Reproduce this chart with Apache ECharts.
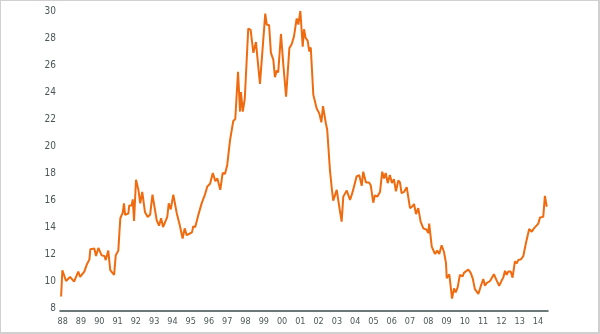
<!DOCTYPE html>
<html>
<head>
<meta charset="utf-8">
<title>Series 1988-2014</title>
<script src="https://cdn.jsdelivr.net/npm/echarts@6/dist/echarts.min.js"></script>
<style>
    body { margin: 0; background: #fff; }
    #chart { position: absolute; left: 0; top: 0; width: 600px; height: 334px; }
    .frame {
        position: absolute; left: 0; top: 0; width: 600px; height: 334px;
        box-sizing: border-box; pointer-events: none;
        border-style: solid; border-color: #d0d0d0;
        border-width: 1px 2px 2px 1px;
    }
</style>
</head>
<body>
<div id="chart"></div>
<div class="frame"></div>
<script>
    // decimal year / value
    var years = [
        1987.91, 1987.98, 1988.18, 1988.40, 1988.49, 1988.62, 1988.85, 1988.95, 1989.18, 1989.31,
        1989.46, 1989.51, 1989.73, 1989.82, 1989.95, 1990.13, 1990.28, 1990.35, 1990.49, 1990.60,
        1990.81, 1990.90, 1991.04, 1991.15, 1991.28, 1991.35, 1991.41, 1991.59, 1991.64, 1991.77,
        1991.83, 1991.90, 1992.01, 1992.14, 1992.24, 1992.35, 1992.50, 1992.65, 1992.78, 1992.91,
        1992.99, 1993.14, 1993.27, 1993.38, 1993.49, 1993.72, 1993.80, 1993.91, 1994.05, 1994.24,
        1994.40, 1994.56, 1994.67, 1994.78, 1994.93, 1995.07, 1995.14, 1995.25, 1995.42, 1995.60,
        1995.78, 1995.91, 1996.06, 1996.21, 1996.35, 1996.46, 1996.62, 1996.75, 1996.88, 1997.00,
        1997.15, 1997.33, 1997.44, 1997.59, 1997.70, 1997.75, 1997.85, 1997.96, 1998.15, 1998.28,
        1998.43, 1998.57, 1998.79, 1999.08, 1999.16, 1999.29, 1999.39, 1999.52, 1999.61, 1999.71,
        1999.79, 1999.94, 2000.07, 2000.22, 2000.40, 2000.53, 2000.65, 2000.80, 2000.89, 2001.00,
        2001.13, 2001.20, 2001.29, 2001.40, 2001.49, 2001.57, 2001.71, 2001.89, 2002.04, 2002.15,
        2002.24, 2002.40, 2002.47, 2002.62, 2002.73, 2002.80, 2002.99, 2003.13, 2003.26, 2003.35,
        2003.54, 2003.72, 2003.86, 2004.08, 2004.22, 2004.36, 2004.44, 2004.59, 2004.76, 2004.85,
        2004.99, 2005.08, 2005.21, 2005.36, 2005.48, 2005.58, 2005.67, 2005.78, 2005.90, 2006.01,
        2006.12, 2006.23, 2006.36, 2006.45, 2006.54, 2006.67, 2006.82, 2007.00, 2007.11, 2007.22,
        2007.33, 2007.45, 2007.58, 2007.73, 2007.91, 2008.00, 2008.05, 2008.19, 2008.37, 2008.49,
        2008.60, 2008.73, 2008.86, 2008.97, 2009.01, 2009.15, 2009.30, 2009.41, 2009.50, 2009.61,
        2009.73, 2009.88, 2009.95, 2010.19, 2010.32, 2010.43, 2010.55, 2010.65, 2010.74, 2010.88,
        2011.01, 2011.10, 2011.19, 2011.38, 2011.59, 2011.74, 2011.88, 2012.02, 2012.10, 2012.20,
        2012.29, 2012.38, 2012.51, 2012.61, 2012.74, 2012.84, 2012.92, 2013.07, 2013.20, 2013.34,
        2013.52, 2013.66, 2013.78, 2014.02, 2014.11, 2014.29, 2014.38, 2014.48
    ];
    var values = [
        8.85, 10.8, 10.0, 10.3, 10.2, 9.95, 10.7, 10.3, 10.7, 11.2,
        11.6, 12.35, 12.4, 11.85, 12.45, 11.9, 11.85, 11.55, 12.25, 10.8,
        10.45, 11.9, 12.25, 14.65, 15.05, 15.75, 14.9, 15.0, 15.6, 15.6,
        16.05, 14.45, 17.5, 16.75, 15.75, 16.6, 15.1, 14.75, 14.9, 16.4,
        16.5, 14.5, 14.1, 14.65, 14.0, 14.75, 15.75, 15.3, 16.4, 15.0,
        14.15, 13.15, 13.9, 13.4, 13.5, 13.6, 14.05, 14.0, 14.9, 15.75,
        16.4, 17.0, 17.2, 18.0, 17.4, 17.6, 16.75, 18.0, 17.95, 18.6,
        20.4, 21.85, 22.0, 25.5, 22.55, 24.0, 22.55, 23.5, 28.7, 28.6,
        26.9, 27.7, 24.6, 29.8, 29.0, 28.95, 26.9, 26.4, 25.1, 25.6,
        25.45, 28.3, 26.0, 23.65, 27.25, 27.55, 28.1, 29.45, 29.0, 30.0,
        27.35, 28.65, 28.0, 27.8, 27.0, 27.3, 23.8, 22.8, 22.4, 21.75,
        22.95, 21.65, 21.2, 18.2, 16.75, 15.95, 16.75, 15.5, 14.4, 16.25,
        16.7, 16.0, 16.6, 17.75, 17.85, 17.05, 18.1, 17.3, 17.3, 17.1,
        15.8, 16.35, 16.25, 16.6, 18.1, 17.6, 18.0, 17.25, 17.85, 17.25,
        17.55, 16.65, 17.45, 17.3, 16.5, 16.6, 16.95, 15.4, 15.5, 15.7,
        14.95, 15.4, 14.4, 13.9, 13.8, 13.55, 14.25, 12.55, 12.0, 12.25,
        12.0, 12.65, 12.15, 11.3, 10.2, 10.5, 8.7, 9.45, 9.15, 9.55,
        10.45, 10.35, 10.6, 10.85, 10.6, 10.2, 9.4, 9.45, 9.05, 9.65,
        10.15, 9.65, 9.85, 10.0, 10.5, 10.05, 9.65, 10.05, 10.25, 10.75,
        10.45, 10.7, 10.7, 10.25, 11.45, 11.3, 11.55, 11.6, 11.85, 12.8,
        13.85, 13.65, 13.9, 14.25, 14.7, 14.75, 16.3, 15.5
    ];
    var yearTicks = [];
    for (var y = 1988; y <= 2014; y++) yearTicks.push(y);

    var labelFont = '"DejaVu Sans Condensed", "Liberation Sans Narrow", "Roboto", sans-serif';

    var myChart = echarts.init(document.getElementById('chart'));
    var option = {
        animation: false,
        grid: { left: 60, right: 52, top: 11, bottom: 26 },
        xAxis: {
            type: 'value',
            min: 1987.85,
            max: 2014.55,
            offset: 3,
            splitLine: { show: false },
            axisTick: { show: false },
            axisLine: { lineStyle: { color: '#3b4c4c', width: 1.5 } },
            axisLabel: {
                customValues: yearTicks,
                margin: 6,
                fontSize: 9,
                fontFamily: labelFont,
                color: '#4b5757',
                formatter: function (v) {
                    var s = String(Math.round(v) % 100);
                    return s.length < 2 ? '0' + s : s;
                }
            }
        },
        yAxis: {
            type: 'value',
            min: 8,
            max: 30,
            interval: 2,
            splitLine: { show: false },
            axisTick: { show: false },
            axisLine: { show: false },
            axisLabel: {
                margin: 4,
                fontSize: 10,
                fontFamily: labelFont,
                color: '#4b5757'
            }
        },
        series: [{
            type: 'line',
            data: years.map(function (t, i) { return [t, values[i]]; }),
            showSymbol: false,
            lineStyle: { color: '#f06a0e', width: 2 },
            itemStyle: { color: '#f06a0e' }
        }]
    };
    myChart.setOption(option);
</script>
</body>
</html>
